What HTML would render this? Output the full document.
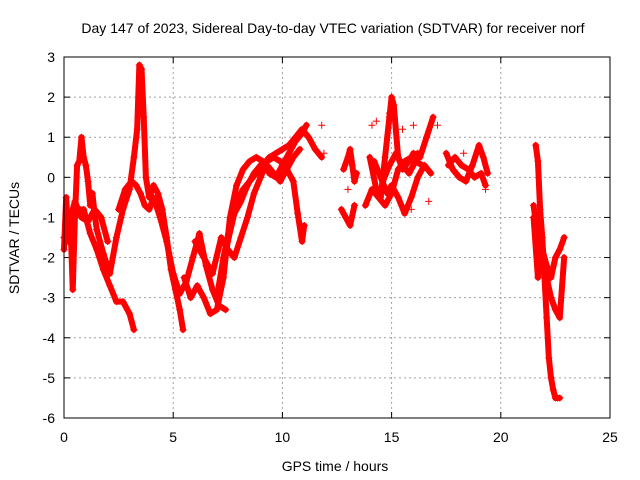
<!DOCTYPE html>
<html><head><meta charset="utf-8"><style>
body{margin:0;background:#fff}
svg{display:block;font-family:"Liberation Sans",sans-serif}
</style></head><body>
<svg id="c" width="640" height="480">
<text x="333" y="33" font-size="14" text-anchor="middle">Day 147 of 2023, Sidereal Day-to-day VTEC variation (SDTVAR) for receiver norf</text>
<text x="335" y="471" font-size="14" text-anchor="middle">GPS time / hours</text>
<text transform="translate(19,238) rotate(-90)" font-size="14" text-anchor="middle">SDTVAR / TECUs</text>
<g id="grid"></g><g id="ticks"></g><g id="marks"></g>
<rect x="64" y="57" width="546" height="361" fill="none" stroke="#000"/>
</svg>
<script>
const xTicks=[0,5,10,15,20,25];
const yTicks=[3,2,1,0,-1,-2,-3,-4,-5,-6];
const t1=[0,0.1,0.2,0.3,0.4,0.5,0.6,0.7,0.8,0.9,1.0,1.1,1.2,1.3,1.4,1.5];
const v1=[-1.8,-0.5,-1.6,-1.2,-2.8,-1.0,0.3,0.4,1.0,0.5,0.3,-0.1,-0.7,-0.4,-0.9,-1.3];
const t2=[0,0.3,0.6,0.9,1.2,1.5,1.8,2.1,2.4,2.7,3.0,3.2];
const v2=[-1.5,-1.3,-0.8,-0.8,-1.4,-1.8,-2.3,-2.7,-3.1,-3.1,-3.4,-3.8];
const t3=[1.5,1.8,2.1,2.4,2.7,3.0,3.2,3.35,3.45,3.55,3.65,3.75,3.9,4.1,4.3,4.5,4.7,4.9,5.1,5.3,5.45];
const v3=[-1.3,-1.9,-2.4,-1.5,-0.8,-0.3,0.5,1.2,2.8,2.7,1.5,0.0,-0.5,-0.2,-0.4,-0.8,-1.5,-2.3,-2.8,-3.3,-3.8];
const t4=[2.5,2.8,3.1,3.3,3.5,3.7,3.9,4.1,4.4,4.7,5.0,5.3,5.6,5.9,6.2,6.5,6.8,7.1,7.4];
const v4=[-0.8,-0.3,-0.1,-0.2,-0.4,-0.7,-0.8,-0.5,-1.0,-1.6,-2.4,-2.9,-2.6,-2.0,-1.4,-2.2,-2.8,-3.2,-3.3];
const t5=[5.5,5.8,6.1,6.4,6.7,7.0,7.3,7.6,7.9,8.2,8.5,8.8,9.1,9.4,9.7,10.0,10.3,10.6,10.9,11.1];
const v5=[-2.5,-3.0,-2.7,-3.0,-3.4,-3.3,-2.5,-1.0,-0.2,0.2,0.4,0.5,0.4,0.1,0.0,0.3,0.6,0.9,1.1,1.3];
const t6=[6.0,6.4,6.8,7.2,7.5,7.8,8.1,8.4,8.7,9.0,9.3,9.6,9.9,10.2,10.5,10.7,10.9,11.0];
const v6=[-1.6,-2.0,-2.4,-1.5,-1.8,-2.0,-1.5,-1.0,-0.4,0.0,0.4,0.5,0.4,0.2,-0.1,-0.9,-1.6,-1.2];
const t7=[7.0,7.3,7.6,7.9,8.2,8.5,8.8,9.1,9.4,9.7,10.0,10.3,10.6,10.9,11.2,11.5,11.8];
const v7=[-3.0,-2.0,-1.2,-0.6,-0.3,-0.1,0.1,0.3,0.5,0.6,0.7,0.8,1.0,1.2,1.0,0.7,0.5];
const t8=[12.8,13.0,13.1,13.2,13.3,13.4];
const v8=[0.2,0.5,0.7,0.3,-0.1,0.1];
const t9=[12.7,12.9,13.1,13.3];
const v9=[-0.8,-1.0,-1.2,-0.7];
const t10=[14.0,14.3,14.5,14.7,14.9,15.0,15.1,15.3,15.5,15.8,16.0,16.3,16.6,16.9];
const v10=[0.5,-0.3,-0.5,0.5,1.5,2.0,1.8,0.5,0.2,0.4,0.6,0.5,1.0,1.5];
const t11=[14.2,14.5,14.8,15.0,15.3,15.6,15.9,16.2,16.5,16.8];
const v11=[0.4,0.0,-0.4,-0.2,-0.5,-0.9,-0.5,0.0,0.3,0.1];
const t12=[13.8,14.1,14.4,14.7,15.0,15.3,15.6,15.9,16.2];
const v12=[-0.7,-0.3,-0.5,-0.7,-0.4,0.2,0.4,0.5,0.6];
const t13=[17.5,17.8,18.1,18.4,18.7,19.0,19.2,19.4];
const v13=[0.6,0.2,0.0,-0.1,0.3,0.8,0.5,0.1];
const t14=[17.6,17.9,18.2,18.5,18.8,19.1,19.3];
const v14=[0.3,0.5,0.3,0.2,0.0,0.1,-0.2];
const t15=[21.6,21.7,21.8,21.9,22.0,22.1,22.2,22.3,22.4,22.5,22.6,22.7];
const v15=[0.8,0.4,-0.8,-1.5,-2.5,-3.5,-4.5,-5.0,-5.3,-5.5,-5.5,-5.5];
const t16=[21.5,21.7,21.9,22.1,22.3,22.5,22.7,22.9];
const v16=[-0.7,-1.5,-2.0,-2.5,-3.0,-3.3,-3.5,-2.0];
const t17=[21.5,21.7,21.9,22.1,22.3,22.5,22.7,22.9];
const v17=[-1.0,-2.5,-1.8,-2.2,-2.5,-2.0,-1.8,-1.5];
const t18=[7.2,7.5,7.8,8.1,8.4,8.7,9.0,9.3,9.6,9.9,10.2,10.5,10.8];
const v18=[-2.6,-1.6,-0.9,-0.6,-0.2,0.1,0.3,0.3,0.1,-0.1,0.2,0.5,0.7];
const t19=[14.6,14.9,15.2,15.5,15.8,16.1,16.4];
const v19=[-0.1,0.3,0.6,0.3,0.1,0.4,0.3];
const t20=[0.2,0.5,0.8,1.1,1.4,1.7,2.0];
const v20=[-1.2,-0.6,-1.0,-1.1,-0.8,-1.0,-1.6];
const tS=[11.8,11.9,13.0,14.1,14.3,15.9,16.7,17.1,16.0,18.3,19.3,15.5,14.9];
const vS=[1.3,0.6,-0.3,1.3,1.4,-0.8,-0.6,1.3,1.3,0.6,-0.3,1.2,1.6];
const series=[[t1,v1],[t2,v2],[t3,v3],[t4,v4],[t5,v5],[t6,v6],[t7,v7],[t8,v8],[t9,v9],[t10,v10],[t11,v11],[t12,v12],[t13,v13],[t14,v14],[t15,v15],[t16,v16],[t17,v17],[t18,v18],[t19,v19],[t20,v20]];
const NS="http://www.w3.org/2000/svg";
const X=t=>64+t*(546/25), Y=v=>57+(3-v)*(361/9);
function mk(tag,a,p){const e=document.createElementNS(NS,tag);for(const k in a)e.setAttribute(k,a[k]);p.appendChild(e);return e;}
const G=document.getElementById('grid'),T=document.getElementById('ticks'),M=document.getElementById('marks');
xTicks.forEach(v=>{const x=X(v);
 if(v>0&&v<25){const l=mk('line',{x1:x,x2:x,y1:57,y2:418,stroke:'#a0a0a0','stroke-dasharray':'2,3'},G);
 
 }
 mk('line',{x1:x,x2:x,y1:418,y2:412,stroke:'#000'},T);mk('line',{x1:x,x2:x,y1:57,y2:63,stroke:'#000'},T);
 const tx=mk('text',{x:x,y:442,'font-size':14,'text-anchor':'middle'},T);tx.textContent=v;
 
 });
yTicks.forEach(v=>{const y=Y(v);
 if(v<3&&v>-6){const l=mk('line',{x1:64,x2:610,y1:y,y2:y,stroke:'#a0a0a0','stroke-dasharray':'2,3'},G);
 
 }
 mk('line',{x1:64,x2:70,y1:y,y2:y,stroke:'#000'},T);mk('line',{x1:604,x2:610,y1:y,y2:y,stroke:'#000'},T);
 const tx=mk('text',{x:55,y:y+5,'font-size':14,'text-anchor':'end'},T);tx.textContent=v;
 
 });
function plus(t,v){const x=X(t),y=Y(v);
 const p=mk('path',{d:`M${x-3.5},${y}h7M${x},${y-3.5}v7`,stroke:'#f00','stroke-width':1},M);
 
 }
series.forEach(([ts,vs])=>{
 const pl=mk('polyline',{points:ts.map((t,i)=>X(t)+','+Y(vs[i])).join(' '),fill:'none',stroke:'#f00','stroke-width':6,'stroke-linejoin':'round','stroke-linecap':'round'},M);
 
 
 ts.forEach((t,i)=>plus(t,vs[i]));});
tS.forEach((t,i)=>plus(t,vS[i]));
</script>
</body></html>
